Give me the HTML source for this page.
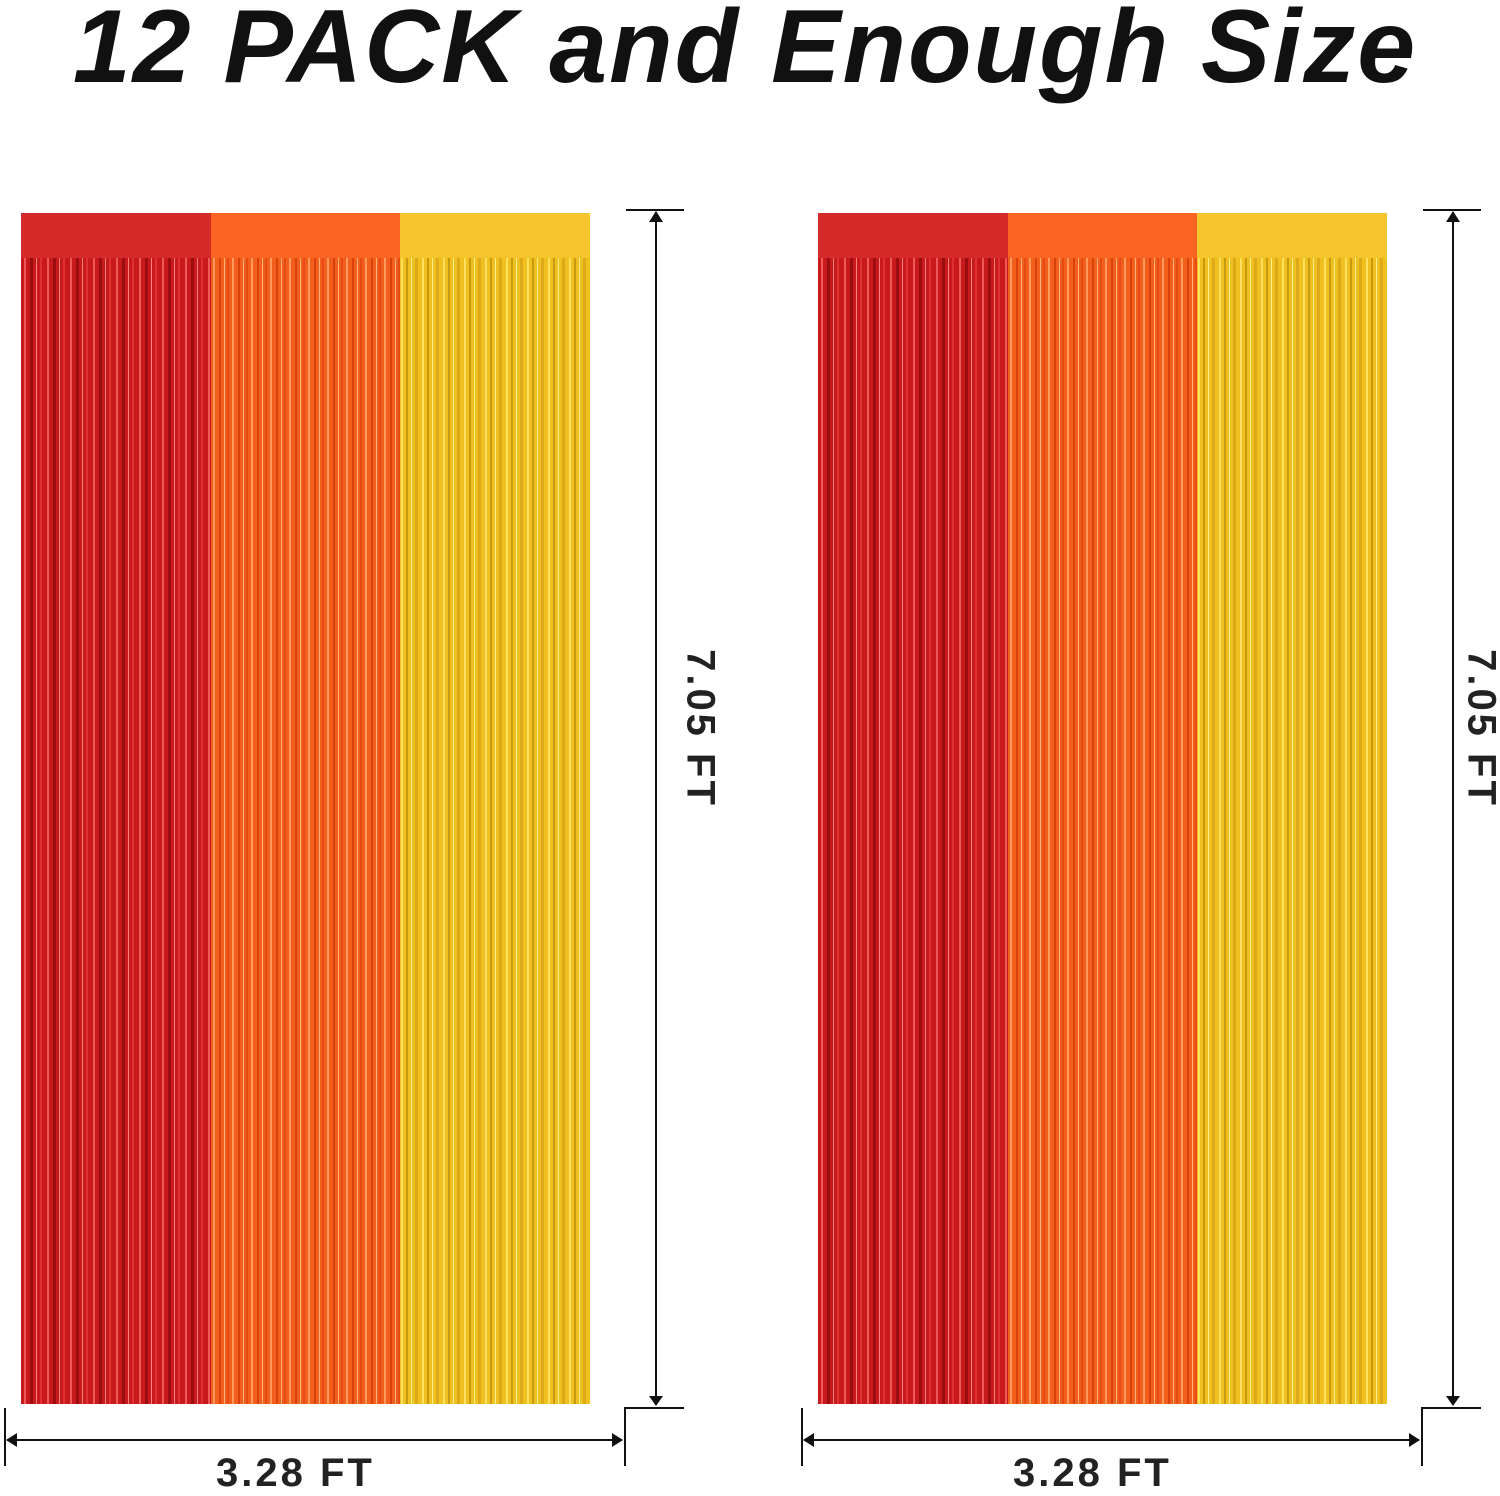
<!DOCTYPE html>
<html><head><style>
html,body{margin:0;padding:0;background:#fff;}
body{width:1500px;height:1493px;position:relative;overflow:hidden;font-family:"Liberation Sans",sans-serif;}
.t{position:absolute;left:-5px;width:1500px;top:-12px;text-align:center;font-weight:bold;font-style:italic;font-size:104px;color:#111;letter-spacing:2px;white-space:nowrap;}
.lab{position:absolute;font-weight:bold;font-size:40px;color:#222;letter-spacing:3px;white-space:nowrap;}
</style></head><body>
<div class="t">12 PACK and Enough Size</div>
<svg width="1500" height="1493" style="position:absolute;left:0;top:0">
<defs>
<pattern id="sr" width="23" height="10" patternUnits="userSpaceOnUse">
<rect width="23" height="10" fill="#c8191c"/><rect x="3" width="2" height="10" fill="#f0595a"/><rect x="9" width="3" height="10" fill="#9c0d10"/><rect x="15" width="1" height="10" fill="#ff8080"/><rect x="19" width="2" height="10" fill="#e03034"/></pattern>
<pattern id="so" width="19" height="10" patternUnits="userSpaceOnUse">
<rect width="19" height="10" fill="#f25f1c"/><rect x="2" width="2" height="10" fill="#ff9a5c"/><rect x="8" width="2" height="10" fill="#d8400c"/><rect x="13" width="1" height="10" fill="#ffb27a"/><rect x="16" width="2" height="10" fill="#e84a14"/></pattern>
<pattern id="sy" width="21" height="10" patternUnits="userSpaceOnUse">
<rect width="21" height="10" fill="#f0c020"/><rect x="2" width="2" height="10" fill="#ffe060"/><rect x="7" width="2" height="10" fill="#c89a10"/><rect x="12" width="1" height="10" fill="#fff090"/><rect x="16" width="3" height="10" fill="#dcaa18"/></pattern>
<g id="cur">
<rect x="0" y="0" width="190" height="45" fill="#d42a2a"/>
<rect x="190" y="0" width="189" height="45" fill="#fb6523"/>
<rect x="379" y="0" width="190" height="45" fill="#f6c42c"/>
<rect x="0" y="45" width="190" height="1146" fill="url(#sr)"/>
<rect x="190" y="45" width="189" height="1146" fill="url(#so)"/>
<rect x="379" y="45" width="190" height="1146" fill="url(#sy)"/>
</g>
<g id="dim" stroke="#111" stroke-width="2" fill="#111">
<line x1="626" y1="210" x2="684" y2="210"/>
<line x1="656" y1="212" x2="656" y2="1398"/>
<polygon points="649,222 663,222 656,211" stroke="none"/>
<polygon points="649,1396 663,1396 656,1406" stroke="none"/>
<polyline points="684,1408 625,1408 625,1466" fill="none"/>
<line x1="5" y1="1408" x2="5" y2="1466"/>
<line x1="7" y1="1440" x2="622" y2="1440"/>
<polygon points="17,1433 17,1447 6,1440" stroke="none"/>
<polygon points="612,1433 612,1447 623,1440" stroke="none"/>
</g>
</defs>
<use href="#cur" x="21" y="213"/>
<use href="#cur" x="818" y="213"/>
<use href="#dim" x="0" y="0"/>
<use href="#dim" x="797" y="0"/>
</svg>
<div class="lab" style="left:216px;top:1451px">3.28 FT</div>
<div class="lab" style="left:1013px;top:1451px">3.28 FT</div>
<div class="lab" style="left:615px;top:706px;transform:rotate(90deg);width:170px;text-align:center">7.05 FT</div>
<div class="lab" style="left:1396px;top:706px;transform:rotate(90deg);width:170px;text-align:center">7.05 FT</div>
</body></html>
